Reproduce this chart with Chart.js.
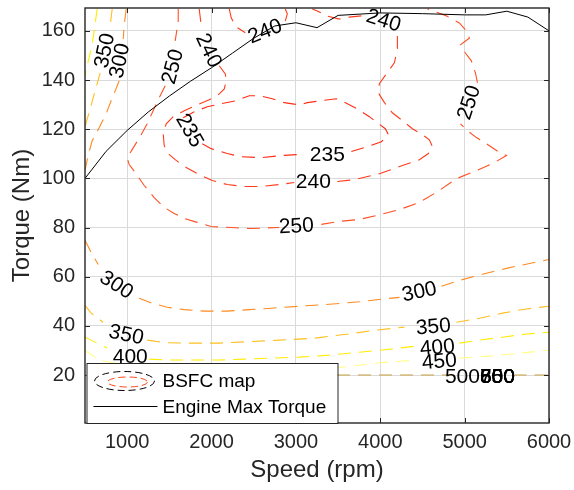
<!DOCTYPE html>
<html>
<head>
<meta charset="utf-8">
<script src="https://cdn.jsdelivr.net/npm/chart.js@4"></script>
<style>
  body { margin: 0; background: #fff; }
  canvas { display: block; }
</style>
</head>
<body>
<canvas id="bsfcChart" width="574" height="490"></canvas>
<script>
// axis ticks
var speedTicks = [1000, 2000, 3000, 4000, 5000, 6000];
var torqueTicks = [20, 40, 60, 80, 100, 120, 140, 160];

// engine max torque curve
var maxTqSpeed = [500, 750, 1000, 1250, 1500, 1750, 2000, 2250, 2500, 2750, 3000, 3250, 3500, 4000, 4500, 5000, 5250, 5500, 5750, 6000];
var maxTq = [100, 111, 119.5, 127, 133.5, 139.5, 145, 151, 157, 162, 163.3, 161.3, 166.3, 167.3, 167, 166.5, 166.5, 168, 165.6, 160];

// BSFC contour lines as [rpm, Nm], null = gap where the label sits
var bsfc235 = [[1890,114.1],[1996,112.1],[2186,110.1],[2352,108.8],[2590,108.4],[2827,109.3],[3040,109.7],null,
  [3657,110.9],[3847,112.9],[4013,114.9],[4096,117.8],[4060,120.2],[3966,122.6],[3871,125.1],[3728,128.3],[3610,130.4],
  [3479,132.4],[3301,131.6],[3135,130.8],[3040,129.9],[2862,130.8],[2720,132.4],[2566,133.6],[2447,133.6],[2293,131.6],
  [2115,130.4],[1949,129.1],[1795,127.1],[1664,124.7]];
var bsfc240 = [[1854,168.9],[1878,162.0],null,[2091,145.8],[2163,142.5],[2174,139.7],[2151,136.4],[2080,134.0],[1973,132.0],
  [1830,129.9],[1676,127.5],[1546,125.1],[1463,122.2],[1427,118.2],[1439,113.3],[1486,110.1],[1569,107.6],[1700,104.4],
  [1854,101.5],[2008,99.1],[2186,97.5],[2388,96.7],[2590,96.7],[2803,97.5],[2981,98.3],null,[3491,98.7],[3693,99.5],
  [3989,101.9],[4262,105.2],[4464,107.6],[4570,110.1],[4618,112.9],[4582,115.7],[4499,117.8],[4381,120.2],[4262,123.5],
  [4143,126.7],[4049,130.8],[3977,134.8],[3989,138.5],[4072,142.5],[4167,147.0],[4203,152.7],[4203,157.9],null,
  [3776,166.1],[3633,165.6],[3515,164.8],[3361,166.1],[3254,168.1],[3194,168.9]];
var bsfc240top = [[2210,168.9],[2234,165.2],[2293,161.6],[2400,159.2],null,[2874,164.0],[2898,166.9],[2874,168.9]];
var bsfc250 = [[1605,168.9],[1605,164.0],[1569,155.9],null,[1451,137.7],[1380,132.8],[1308,127.5],[1237,122.2],[1154,117.0],
  [1059,111.7],[1000,108.4],[1024,105.6],[1095,102.4],[1202,97.1],[1320,92.2],[1439,88.2],[1557,85.7],[1676,83.7],
  [1830,82.1],[1996,80.4],[2234,80.0],[2447,79.6],[2803,80.0],null,[3301,81.3],[3515,82.5],[3752,83.3],[3954,84.9],
  [4227,87.3],[4464,90.2],[4701,95.1],[4903,99.9],[5116,102.8],[5330,106.0],[5496,109.3],[5413,110.5],[5294,113.3],
  [5140,116.6],[5033,119.4],[4950,122.2],null,[5152,138.9],[5128,142.9],[5080,147.8],[5009,151.0],[4950,154.3],
  [5057,157.1],[5021,160.0],[4938,163.2],[4784,166.1],[4559,168.9]];
var bsfc300hi = [[988,168.9],[964,162.0],[953,156.7],null,[905,139.7],[858,135.6],[810,131.6],[751,126.3],[668,120.6],
  [585,115.3],[537,109.3],[500,103.2]];
var bsfc300lo = [[500,74.8],[573,69.9],[656,65.0],null,[1142,51.2],[1297,49.2],[1474,47.6],[1676,46.6],[1913,46.0],
  [2186,46.0],[2447,46.6],[2708,47.2],[3040,48.0],[3396,48.8],[3752,49.8],[4049,51.0],[4227,51.6],null,[4725,56.1],
  [4938,58.5],[5211,61.0],[5496,63.4],[5769,65.4],[6000,67.0]];
var bsfc350hi = [[822,168.9],[798,162.0],null,[680,142.9],[620,135.6],[561,128.3],[500,121.0]];
var bsfc350lo = [[500,48.4],[573,45.2],[715,41.5],null,[1237,34.2],[1439,33.2],[1735,33.0],[2091,33.0],[2447,33.6],
  [2803,34.2],[3218,35.0],[3598,36.6],[3954,38.3],[4286,39.5],null,[4903,41.5],[5175,43.1],[5448,45.2],[5709,46.8],[6000,48.0]];
var bsfc400hi = [[644,168.9],[609,160.0],[585,154.7],[549,149.0],[514,144.5],[500,141.7]];
var bsfc400lo = [[500,35.4],[644,33.0],[763,31.0],null,[1261,26.5],[1498,26.1],[1795,26.1],[2091,26.1],[2388,26.5],
  [2708,26.9],[3040,27.3],[3396,28.1],[3752,29.3],[4108,30.5],[4428,31.8],null,[4938,33.0],[5175,34.2],[5448,35.4],
  [5709,36.6],[6000,37.4]];
var bsfc450 = [[500,30.1],[668,26.1],[905,24.5],[1854,23.2],[3040,22.4],[3455,22.8],[3989,25.0],[4428,26.1],null,
  [4938,26.9],[5294,27.7],[5650,28.9],[6000,30.1]];
var bsfc500 = [[500,20],[4850,20],null,[5580,20],[6000,20]];

// contour labels
var labelText   = ['350','300','250','240','240','240','250','235','235','240','250','300','300','350','350','400','400','450','500','550','600','650','700','800'];
var labelSpeed  = [739, 917, 1546, 1961, 2637, 4037, 5057, 1735, 3372, 3206, 3005, 870, 4464, 988, 4630, 1036, 4677, 4701, 4974, 5389, 5389, 5389, 5389, 5389];
var labelTorque = [151.9, 147.8, 145.4, 151.9, 159.6, 164.0, 130.8, 119.4, 109.3, 98.3, 80.4, 56.5, 53.7, 36.2, 39.5, 27.3, 31.0, 25.3, 19.2, 19.2, 19.2, 19.2, 19.2, 19.2];
var labelAngle  = [-78, -78, -75, 65, -22, 18, -72, 60, 0, 0, -3, 33, -12, 12, -5, 0, -5, -5, 0, 0, 0, 0, 0, 0];

var FONT = '"Liberation Sans", Arial, Helvetica, sans-serif';

function toPoints(arr) {
  var out = [], lastX = 500;
  arr.forEach(function (p) {
    if (p === null) { out.push({ x: lastX, y: null }); }
    else { out.push({ x: p[0], y: p[1] }); lastX = p[0]; }
  });
  return out;
}

function contour(arr, color) {
  return {
    data: toPoints(arr),
    showLine: true,
    borderColor: color,
    borderWidth: 1.1,
    borderDash: [13, 8],
    pointRadius: 0,
    spanGaps: false,
    tension: 0
  };
}

var maxTqPts = maxTqSpeed.map(function (s, i) { return { x: s, y: maxTq[i] }; });

var overlay = {
  id: 'overlay',
  afterDatasetsDraw: function (chart) {
    var ctx = chart.ctx, a = chart.chartArea, xs = chart.scales.x, ys = chart.scales.y;
    ctx.save();
    // contour labels
    ctx.fillStyle = '#000';
    ctx.font = '21px ' + FONT;
    ctx.textAlign = 'center';
    ctx.textBaseline = 'middle';
    for (var i = 0; i < labelText.length; i++) {
      ctx.save();
      ctx.translate(xs.getPixelForValue(labelSpeed[i]), ys.getPixelForValue(labelTorque[i]));
      ctx.rotate(labelAngle[i] * Math.PI / 180);
      ctx.fillText(labelText[i], 0, 0);
      ctx.restore();
    }
    // axes box with inward ticks
    ctx.strokeStyle = '#262626';
    ctx.lineWidth = 1.4;
    ctx.strokeRect(a.left, a.top, a.right - a.left, a.bottom - a.top);
    ctx.lineWidth = 1;
    ctx.beginPath();
    speedTicks.forEach(function (v) {
      var px = Math.round(xs.getPixelForValue(v)) + 0.5;
      ctx.moveTo(px, a.bottom); ctx.lineTo(px, a.bottom - 5);
      ctx.moveTo(px, a.top); ctx.lineTo(px, a.top + 5);
    });
    torqueTicks.forEach(function (v) {
      var py = Math.round(ys.getPixelForValue(v)) + 0.5;
      ctx.moveTo(a.left, py); ctx.lineTo(a.left + 5, py);
      ctx.moveTo(a.right, py); ctx.lineTo(a.right - 5, py);
    });
    ctx.stroke();

    // legend box (bottom left inside axes)
    var lx = a.left + 1.5, ly = a.bottom - 60, lw = 251, lh = 60;
    ctx.fillStyle = '#fff';
    ctx.fillRect(lx, ly, lw, lh);
    ctx.strokeStyle = '#262626';
    ctx.lineWidth = 1;
    ctx.strokeRect(lx + 0.5, ly + 0.5, lw, lh);
    // contour icon
    ctx.setLineDash([7, 4]);
    ctx.strokeStyle = '#000';
    ctx.beginPath();
    ctx.ellipse(lx + 38, ly + 18, 30, 9.5, 0, 0, Math.PI * 2);
    ctx.stroke();
    ctx.strokeStyle = '#ff4a1c';
    ctx.beginPath();
    ctx.ellipse(lx + 41, ly + 19, 20, 5, 0, 0, Math.PI * 2);
    ctx.stroke();
    ctx.setLineDash([]);
    // max torque icon
    ctx.strokeStyle = '#000';
    ctx.beginPath();
    ctx.moveTo(lx + 7, ly + 43.5); ctx.lineTo(lx + 71, ly + 43.5);
    ctx.stroke();
    ctx.fillStyle = '#000';
    ctx.font = '19px ' + FONT;
    ctx.textAlign = 'left';
    ctx.textBaseline = 'middle';
    ctx.fillText('BSFC map', lx + 76, ly + 19);
    ctx.fillText('Engine Max Torque', lx + 76, ly + 45);
    ctx.restore();
  }
};

var ctx = document.getElementById('bsfcChart').getContext('2d');
var bsfcChart = new Chart(ctx, {
  type: 'scatter',
  data: {
    datasets: [
      { data: maxTqPts, showLine: true, borderColor: '#000', borderWidth: 1, pointRadius: 0, tension: 0 },
      contour(bsfc235, '#ff2d14'),
      contour(bsfc240, '#ff3c1c'),
      contour(bsfc240top, '#ff3c1c'),
      contour(bsfc250, '#ff5024'),
      contour(bsfc300hi, '#ff8a1e'),
      contour(bsfc300lo, '#ff8a1e'),
      contour(bsfc350hi, '#ffbe1e'),
      contour(bsfc350lo, '#ffbe1e'),
      contour(bsfc400hi, '#ffec00'),
      contour(bsfc400lo, '#ffec00'),
      contour(bsfc450, '#ffff8a'),
      contour(bsfc500, '#c9a23e')
    ]
  },
  options: {
    responsive: false,
    animation: false,
    layout: { padding: { top: 8, right: 25, bottom: 0, left: 0 } },
    plugins: { legend: { display: false }, tooltip: { enabled: false } },
    scales: {
      x: {
        type: 'linear', min: 500, max: 6000,
        afterBuildTicks: function (scale) { scale.ticks = speedTicks.map(function (v) { return { value: v }; }); },
        afterFit: function (scale) { scale.height = 67; scale.paddingLeft = 0; scale.paddingRight = 0; },
        grid: { color: '#dadada', drawTicks: false },
        border: { display: false },
        ticks: { color: '#262626', font: { family: FONT, size: 20 }, padding: 7, maxRotation: 0,
                 callback: function (v) { return String(v); } },
        title: { display: true, text: 'Speed (rpm)', color: '#262626', font: { family: FONT, size: 24 }, padding: { top: 2, bottom: 5 } }
      },
      y: {
        type: 'linear', min: 0.5, max: 169.3,
        afterBuildTicks: function (scale) { scale.ticks = torqueTicks.map(function (v) { return { value: v }; }); },
        afterFit: function (scale) { scale.width = 85; scale.paddingTop = 0; scale.paddingBottom = 0; },
        grid: { color: '#dadada', drawTicks: false },
        border: { display: false },
        ticks: { color: '#262626', font: { family: FONT, size: 20 }, padding: 10,
                 callback: function (v) { return String(v); } },
        title: { display: true, text: 'Torque (Nm)', color: '#262626', font: { family: FONT, size: 24 }, padding: { top: 8, bottom: 2 } }
      }
    }
  },
  plugins: [overlay]
});
</script>
</body>
</html>
